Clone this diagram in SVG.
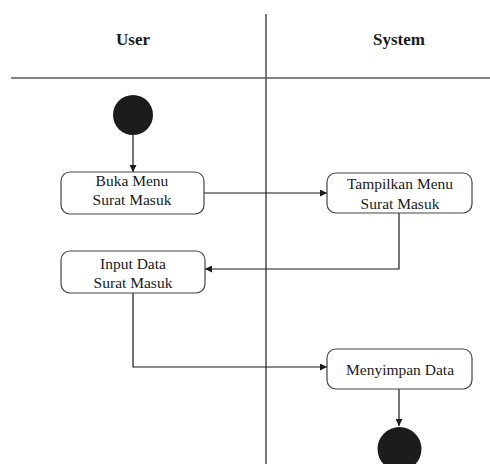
<svg xmlns="http://www.w3.org/2000/svg" width="490" height="464" viewBox="0 0 490 464">
  <defs>
    <marker id="arrow" viewBox="0 0 10 10" refX="10" refY="5" markerWidth="7" markerHeight="7" markerUnits="userSpaceOnUse" orient="auto">
      <path d="M0,0 L10,5 L0,10 z" fill="#1a1a1a"/>
    </marker>
    <style>
      .lane { stroke: #5a5a5a; stroke-width: 1.6; fill: none; }
      .head { font-weight: bold; font-size: 17px; fill: #1a1a1a; text-anchor: middle; }
      .act { fill: #ffffff; stroke: #444444; stroke-width: 1.2; }
      .label { font-size: 15.5px; fill: #1a1a1a; text-anchor: middle; }
      .flow { stroke: #1a1a1a; stroke-width: 1.2; fill: none; }
      .dot { fill: #1c1c1c; }
    </style>
  </defs>
  <rect width="490" height="464" fill="#ffffff"/>

  <g font-family="Liberation Serif, serif">
  <!-- swimlanes -->
  <g id="lanes">
    <line class="lane" x1="266" y1="14" x2="266" y2="464"/>
    <line class="lane" x1="11" y1="78" x2="490" y2="78"/>
    <text class="head" x="133" y="45">User</text>
    <text class="head" x="399" y="45">System</text>
  </g>

  <!-- connectors -->
  <g id="connectors">
    <path class="flow" d="M133,135 L133,172" marker-end="url(#arrow)"/>
    <path class="flow" d="M204,193 L327,193" marker-end="url(#arrow)"/>
    <path class="flow" d="M399,213 L399,269 L205,269" marker-end="url(#arrow)"/>
    <path class="flow" d="M133,293 L133,367 L327,367" marker-end="url(#arrow)"/>
    <path class="flow" d="M399,389 L399,426" marker-end="url(#arrow)"/>
  </g>

  <g id="start">
    <circle class="dot" cx="133" cy="115" r="20"/>
  </g>

  <g id="buka-menu">
    <rect class="act" x="61" y="172" width="143" height="42" rx="9"/>
    <text class="label" x="132" y="186">Buka Menu</text>
    <text class="label" x="132" y="205">Surat Masuk</text>
  </g>

  <g id="tampilkan-menu">
    <rect class="act" x="327" y="173" width="145" height="40" rx="9"/>
    <text class="label" x="400" y="189">Tampilkan Menu</text>
    <text class="label" x="400" y="209">Surat Masuk</text>
  </g>

  <g id="input-data">
    <rect class="act" x="61" y="251" width="144" height="42" rx="9"/>
    <text class="label" x="133" y="269">Input Data</text>
    <text class="label" x="133" y="288">Surat Masuk</text>
  </g>

  <g id="menyimpan-data">
    <rect class="act" x="327" y="349" width="145" height="40" rx="9"/>
    <text class="label" x="400" y="375">Menyimpan Data</text>
  </g>

  <g id="end">
    <circle class="dot" cx="399.5" cy="449" r="22"/>
  </g>
  </g>
</svg>
